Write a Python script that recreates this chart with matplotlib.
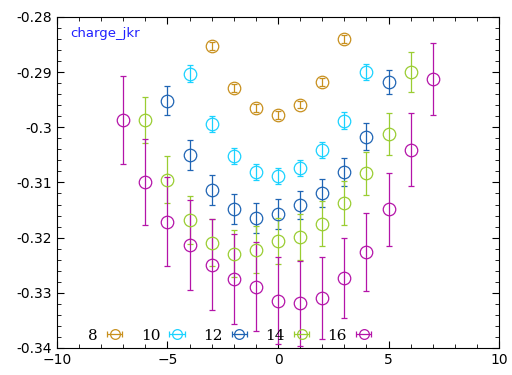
import numpy as np
import matplotlib
matplotlib.use("Agg")
import matplotlib.pyplot as plt
from matplotlib.ticker import MultipleLocator

# data
x8 = [-3, -2, -1, 0, 1, 2, 3]
y8 = [-0.2853, -0.2929, -0.2965, -0.2978, -0.2959, -0.2918, -0.2840]
e8 = [0.0007, 0.0007, 0.0007, 0.0007, 0.0007, 0.0007, 0.0007]

x10 = [-4, -3, -2, -1, 0, 1, 2, 3, 4]
y10 = [-0.2903, -0.2994, -0.3052, -0.3081, -0.3088, -0.3074, -0.3041, -0.2988, -0.2900]
e10 = [0.0015, 0.0015, 0.0014, 0.0014, 0.0014, 0.0014, 0.0014, 0.0015, 0.0015]

x12 = [-5, -4, -3, -2, -1, 0, 1, 2, 3, 4, 5]
y12 = [-0.2952, -0.3050, -0.3113, -0.3148, -0.3164, -0.3157, -0.3141, -0.3119, -0.3081, -0.3017, -0.2918]
e12 = [0.0026, 0.0027, 0.0027, 0.0027, 0.0027, 0.0027, 0.0026, 0.0025, 0.0025, 0.0024, 0.0022]

x14 = [-6, -5, -4, -3, -2, -1, 0, 1, 2, 3, 4, 5, 6]
y14 = [-0.2987, -0.3095, -0.3168, -0.3209, -0.3229, -0.3222, -0.3206, -0.3199, -0.3175, -0.3137, -0.3083, -0.3012, -0.2900]
e14 = [0.0042, 0.0043, 0.0043, 0.0043, 0.0043, 0.0043, 0.0042, 0.0042, 0.0041, 0.0040, 0.0039, 0.0038, 0.0037]

x16 = [-7, -6, -5, -4, -3, -2, -1, 0, 1, 2, 3, 4, 5, 6, 7]
y16 = [-0.2987, -0.3099, -0.3171, -0.3213, -0.3249, -0.3275, -0.3289, -0.3314, -0.3319, -0.3309, -0.3273, -0.3226, -0.3149, -0.3041, -0.2912]
e16 = [0.0079, 0.0078, 0.0080, 0.0081, 0.0082, 0.0081, 0.0081, 0.0079, 0.0077, 0.0074, 0.0072, 0.0070, 0.0067, 0.0066, 0.0065]

labels = ["8", "10", "12", "14", "16"]
colors = ["#c8901e", "#1ad2ff", "#1f64b4", "#9acd32", "#b414a8"]
yticks = [-0.34, -0.33, -0.32, -0.31, -0.3, -0.29, -0.28]
yticklabels = ["-0.34", "-0.33", "-0.32", "-0.31", "-0.3", "-0.29", "-0.28"]

fig = plt.figure(figsize=(5.12, 3.75), dpi=100)
ax = fig.add_axes([0.111, 0.072, 0.864, 0.883])

series = [(x8, y8, e8), (x10, y10, e10), (x12, y12, e12), (x14, y14, e14), (x16, y16, e16)]
handles = []
for (xs, ys, es), lab, c in zip(series, labels, colors):
    ax.errorbar(xs, ys, yerr=es, fmt="o", ms=9, mfc="none", mec=c, mew=0.9,
                ecolor=c, elinewidth=0.9, capsize=2.5, capthick=0.9)
    # legend proxy with a horizontal bar, like the reference key
    h = ax.errorbar([np.nan], [np.nan], xerr=[1], fmt="o", ms=7, mfc="none", mec=c,
                    mew=0.9, ecolor=c, elinewidth=0.9, capsize=2.5, capthick=0.9, label=lab)
    handles.append(h)

ax.set_xlim(-10, 10)
ax.set_ylim(-0.34, -0.28)
ax.xaxis.set_major_locator(MultipleLocator(5))
ax.xaxis.set_minor_locator(MultipleLocator(1))
ax.set_yticks(yticks)
ax.set_yticklabels(yticklabels)
ax.yaxis.set_minor_locator(MultipleLocator(0.002))
ax.tick_params(which="both", direction="in", top=True, right=True, labelsize=10)
ax.tick_params(which="major", length=5)
ax.tick_params(which="minor", length=3)

ax.text(0.03, 0.95, "charge_jkr", color="#2020ff", fontsize=9.5,
        transform=ax.transAxes, va="center", ha="left")

leg = ax.legend(handles=handles, loc="lower left", ncol=5, frameon=False,
                markerfirst=False, handlelength=1.2, columnspacing=1.1,
                handletextpad=0.5, bbox_to_anchor=(0.04, -0.025),
                prop={"family": "DejaVu Serif", "size": 11})

fig.savefig("out.png", dpi=100)
